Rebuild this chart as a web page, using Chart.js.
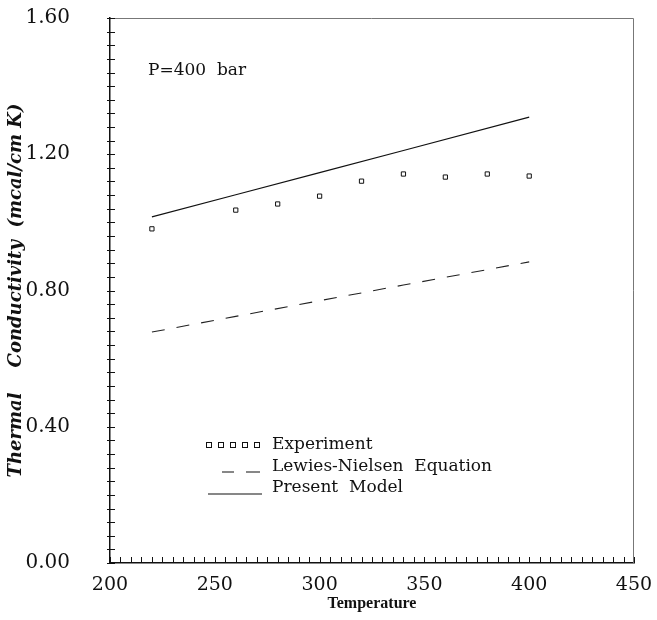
<!DOCTYPE html>
<html>
<head>
<meta charset="utf-8">
<script src="https://cdn.jsdelivr.net/npm/chart.js@4/dist/chart.umd.min.js"></script>
<style>
html,body{margin:0;padding:0;background:#fff;}
#wrap{width:657px;height:620px;position:relative;}
</style>
</head>
<body>
<div id="wrap"><canvas id="c" width="657" height="620"></canvas></div>
<script>
// Data
const expTemps = [220, 260, 280, 300, 320, 340, 360, 380, 400];
const expValues = [0.981, 1.036, 1.054, 1.077, 1.121, 1.142, 1.133, 1.142, 1.136];
const modelTemps = [220, 260, 300, 340, 400];
const lewiesValues = [0.678, 0.724, 0.770, 0.816, 0.884];
const presentValues = [1.016, 1.081, 1.146, 1.211, 1.309];
const seriesLabels = ['Experiment', 'Lewies-Nielsen  Equation', 'Present  Model'];
const xTickLabels = [200, 250, 300, 350, 400, 450];
const yTickLabels = ['0.00', '0.40', '0.80', '1.20', '1.60'];

const serif = '"DejaVu Serif", "Liberation Serif", serif';

const toXY = (xs, ys) => xs.map((x, i) => ({x: x, y: ys[i]}));

const decorPlugin = {
  id: 'decor',
  afterDraw(chart) {
    const ctx = chart.ctx;
    const a = chart.chartArea;
    const xs = chart.scales.x, ys = chart.scales.y;
    ctx.save();
    // top and right frame
    ctx.strokeStyle = '#777';
    ctx.lineWidth = 1;
    ctx.beginPath();
    ctx.moveTo(a.left, a.top + 0.5);
    ctx.lineTo(a.right - 0.5, a.top + 0.5);
    ctx.lineTo(a.right - 0.5, a.bottom);
    ctx.stroke();
    // tick marks
    ctx.strokeStyle = '#111';
    ctx.lineWidth = 1;
    ctx.beginPath();
    xs.ticks.forEach(t => {
      const px = Math.round(xs.getPixelForValue(t.value)) + 0.5;
      ctx.moveTo(px, a.bottom);
      ctx.lineTo(px, a.bottom - 6);
    });
    ys.ticks.forEach(t => {
      const py = Math.round(ys.getPixelForValue(t.value)) + 0.5;
      ctx.moveTo(a.left - 3, py);
      ctx.lineTo(a.left + 5, py);
    });
    ctx.stroke();
    // annotation
    ctx.fillStyle = '#111';
    ctx.font = '17px ' + serif;
    ctx.textBaseline = 'middle';
    ctx.textAlign = 'left';
    ctx.fillText('P=400  bar', 148, 71);
    // legend
    const ds = chart.data.datasets;
    const rows = [445, 467, 488];
    const textX = 272;
    ctx.font = '17px ' + serif;
    ds.forEach((d, i) => {
      const y = rows[i];
      ctx.strokeStyle = '#111';
      if (i === 0) {
        ctx.lineWidth = 1;
        for (let k = 0; k < 5; k++) {
          const cx = 209 + k * 12;
          ctx.fillStyle = '#fff';
          ctx.fillRect(cx - 3, y - 3, 6, 6);
          ctx.strokeRect(cx - 3 + 0.5, y - 3 + 0.5, 5, 5);
        }
      } else if (i === 1) {
        ctx.lineWidth = 1.2;
        ctx.beginPath();
        ctx.moveTo(222, y + 5); ctx.lineTo(234, y + 5);
        ctx.moveTo(246, y + 5); ctx.lineTo(260, y + 5);
        ctx.stroke();
      } else {
        ctx.lineWidth = 1.2;
        ctx.beginPath();
        ctx.moveTo(208, y + 6); ctx.lineTo(262, y + 6);
        ctx.stroke();
      }
      ctx.fillStyle = '#111';
      ctx.fillText(d.label, textX, y);
    });
    ctx.restore();
  }
};

new Chart(document.getElementById('c'), {
  type: 'scatter',
  data: {
    datasets: [
      {
        label: seriesLabels[0],
        data: toXY(expTemps, expValues),
        showLine: false,
        pointStyle: 'rect',
        pointRadius: 3,
        borderColor: '#111',
        backgroundColor: '#fff',
        borderWidth: 1
      },
      {
        label: seriesLabels[1],
        data: toXY(modelTemps, lewiesValues),
        showLine: true,
        pointRadius: 0,
        borderColor: '#222',
        borderWidth: 1.1,
        borderDash: [13, 12]
      },
      {
        label: seriesLabels[2],
        data: toXY(modelTemps, presentValues),
        showLine: true,
        pointRadius: 0,
        borderColor: '#111',
        borderWidth: 1.2
      }
    ]
  },
  options: {
    responsive: false,
    animation: false,
    layout: {padding: {top: 18, right: 23, left: 0, bottom: 0}},
    plugins: {legend: {display: false}, tooltip: {enabled: false}},
    scales: {
      x: {
        type: 'linear',
        min: 200, max: 450,
        afterFit: s => { s.height = 57; s.paddingLeft = 0; s.paddingRight = 0; },
        grid: {display: false},
        border: {display: true, color: '#111', width: 1.5},
        ticks: {
          stepSize: 5,
          autoSkip: false,
          maxRotation: 0,
          padding: 3,
          color: '#111',
          font: {family: serif, size: 19},
          callback: v => xTickLabels.includes(v) ? String(v) : ''
        },
        title: {
          display: true,
          text: 'Temperature',
          color: '#111',
          font: {family: '"Liberation Serif", serif', size: 16, weight: 'bold'},
          padding: {top: 0, bottom: 7}
        }
      },
      y: {
        type: 'linear',
        min: 0, max: 1.6,
        afterFit: s => { s.width = 110; s.paddingTop = 0; s.paddingBottom = 0; },
        grid: {display: false},
        border: {display: true, color: '#111', width: 1.5},
        ticks: {
          stepSize: 0.04,
          autoSkip: false,
          padding: 32,
          color: '#111',
          font: {family: serif, size: 20},
          callback: v => {
            const lbl = v.toFixed(2);
            return yTickLabels.includes(lbl) ? lbl : '';
          }
        },
        title: {
          display: true,
          text: 'Thermal    Conductivity  (mcal/cm K)',
          color: '#111',
          font: {family: '"DejaVu Serif", serif', size: 18, weight: 'bold', style: 'italic'},
          padding: {top: 6, bottom: 0}
        }
      }
    }
  },
  plugins: [decorPlugin]
});
</script>
</body>
</html>
